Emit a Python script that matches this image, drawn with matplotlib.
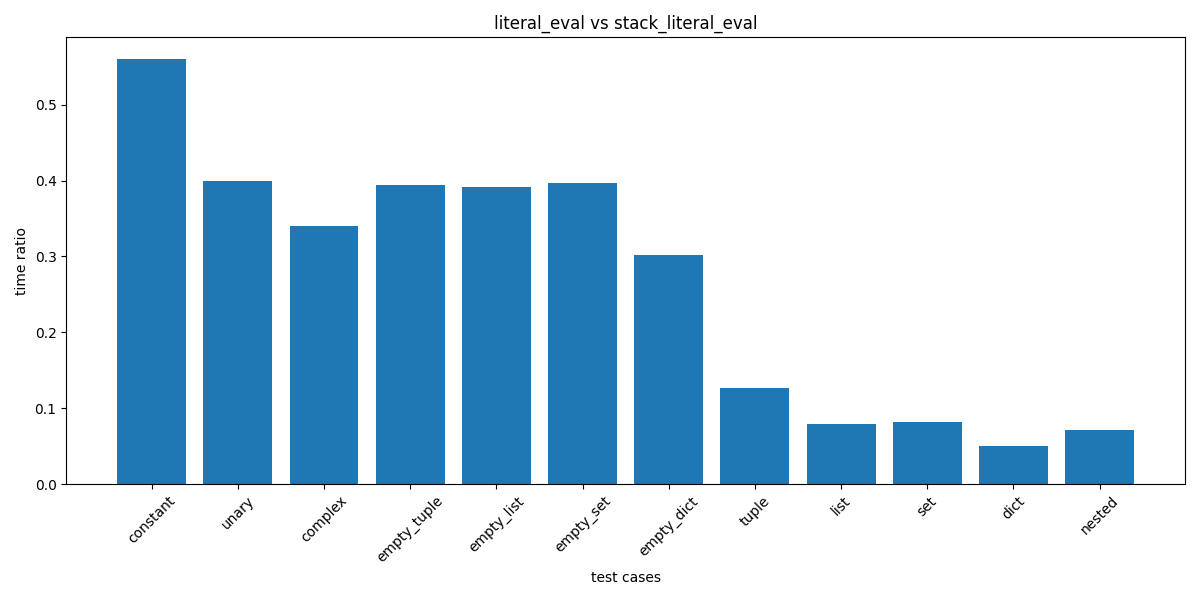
import matplotlib
matplotlib.use("Agg")
import matplotlib.pyplot as plt

cases = ["constant", "unary", "complex", "empty_tuple", "empty_list", "empty_set",
         "empty_dict", "tuple", "list", "set", "dict", "nested"]
ratios = [0.5607, 0.3997, 0.3404, 0.3945, 0.3918, 0.397,
          0.302, 0.1266, 0.079, 0.0818, 0.050, 0.0712]

plt.figure(figsize=(12, 6))
plt.bar(cases, ratios)
plt.xticks(rotation=45)
plt.xlabel("test cases")
plt.ylabel("time ratio")
plt.title("literal_eval vs stack_literal_eval")
plt.tight_layout()
plt.savefig("out.png", dpi=100)
plt.close()
